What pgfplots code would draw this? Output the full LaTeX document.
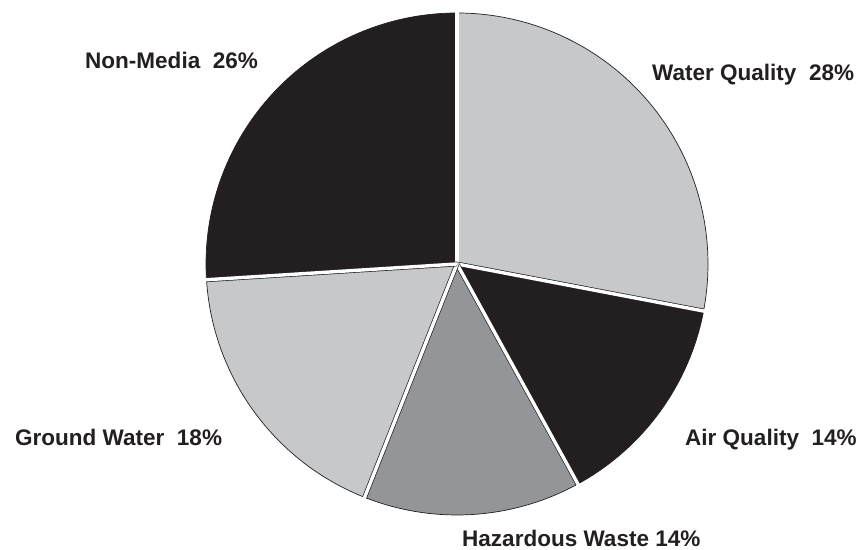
\documentclass[border=0pt]{standalone}
\usepackage{pgfplots}
\pgfplotsset{compat=1.18}
\usepackage{fontspec}
\setmainfont{Liberation Sans}
\definecolor{lightg}{HTML}{C7C8CA}
\definecolor{darkg}{HTML}{231F20}
\definecolor{midg}{HTML}{939598}
% center of the pie (axis units = bp) and radius
\def\cx{457}\def\cy{286}\def\R{251}
\newcommand{\pieslice}[3]{% #1 cumulative percent before slice, #2 percent, #3 colour
  \pgfmathsetmacro\sa{90-3.6*#1}%
  \pgfmathsetmacro\ea{90-3.6*(#1+#2)}%
  \edef\tmp{\noexpand\fill[#3, draw=darkg, line width=0.7bp]
    (axis cs:\cx,\cy) -- ++(\sa:\R bp) arc[start angle=\sa, end angle=\ea, radius=\R bp] -- cycle;}%
  \tmp}
\newcommand{\piegap}[1]{% #1 cumulative percent at boundary
  \pgfmathsetmacro\ga{90-3.6*#1}%
  \edef\tmp{\noexpand\draw[darkg, line width=4.8bp] (axis cs:\cx,\cy) -- ++(\ga:\R bp);
    \noexpand\draw[white, line width=3.4bp] (axis cs:\cx,\cy) -- ++(\ga:\R bp+3bp);}%
  \tmp}
\tikzset{lbl/.style={anchor=base west, font=\fontsize{22.6}{26}\selectfont\bfseries, text=darkg, inner sep=0pt}}
\begin{document}
\begin{tikzpicture}
\begin{axis}[
  scale only axis, width=864bp, height=550bp,
  xmin=0, xmax=864, ymin=0, ymax=550,
  hide axis, clip=false,
]
\path (axis cs:0,0) rectangle (axis cs:864,550);
% Water Quality 28, Air Quality 14, Hazardous Waste 14, Ground Water 18, Non-Media 26
\pieslice{0}{28}{lightg}
\pieslice{28}{14}{darkg}
\pieslice{42}{14}{midg}
\pieslice{56}{18}{lightg}
\pieslice{74}{26}{darkg}
\piegap{0}
\piegap{28}
\piegap{42}
\piegap{56}
\piegap{74}
\node[lbl] at (axis cs:652,469) {Water Quality\ \ 28\%};
\node[lbl] at (axis cs:85,481) {Non-Media\ \ 26\%};
\node[lbl] at (axis cs:15,104) {Ground Water\ \ 18\%};
\node[lbl] at (axis cs:685,104) {Air Quality\ \ 14\%};
\node[lbl] at (axis cs:462,3) {Hazardous Waste 14\%};
\end{axis}
\end{tikzpicture}
\end{document}
